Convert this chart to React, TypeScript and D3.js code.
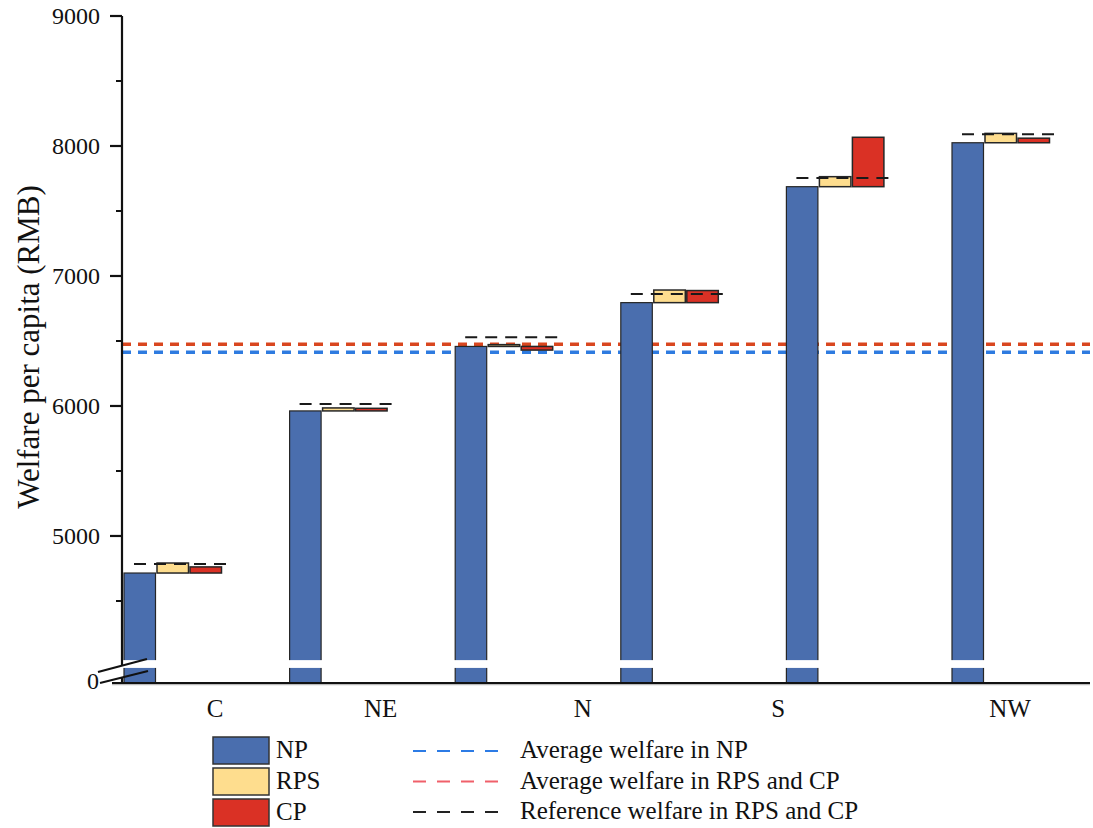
import { useEffect, useRef } from 'react';
import * as d3 from 'd3';

// six region groups, only five of them carry a label in the original figure
const groups = [0, 1, 2, 3, 4, 5];
const npValues = [4715, 5962, 6458, 6795, 7687, 8025];
const rpsValues = [4792, 5985, 6472, 6892, 7764, 8097];
const cpValues = [4762, 5982, 6430, 6888, 8067, 8060];
const refValues = [4785, 6015, 6528, 6862, 7754, 8090];
const avgNP = 6413;
const avgRpsCp = 6475;

const xLabels = ['C', 'NE', 'N', 'S', 'NW'];
const xLabelPos = [0.55, 1.55, 2.77, 3.95, 5.35];

const yTicks = [5000, 6000, 7000, 8000, 9000];
const yMinorTicks = [4500, 5500, 6500, 7500, 8500];
const yBottom = 3869;
const breakBand = [3985, 4045];

const legendBars = ['NP', 'RPS', 'CP'];
const legendLines = [
  'Average welfare in NP',
  'Average welfare in RPS and CP',
  'Reference welfare in RPS and CP',
];

const FONT = '"Liberation Serif", "Times New Roman", serif';
const C_NP = '#4a6eae';
const C_RPS = '#fedd8e';
const C_CP = '#da3125';
const OUTLINE = '#262626';

function Chart() {
  const ref = useRef<SVGSVGElement>(null);
  const width = 1093;
  const height = 828;
  const axisX = 122;
  const plotRight = 1090;
  const bw = 31.5;
  const gap = 1.5;

  useEffect(() => {
    const svg = d3.select(ref.current);
    svg.selectAll('*').remove();

    const yScale = d3.scaleLinear()
      .domain([yBottom, 9000])
      .range([683, 16]);

    const xScale = d3.scaleLinear()
      .domain([0, 5])
      .range([124, 952]);

    const yBase = yScale(yBottom);

    // average lines
    svg.append('line')
      .attr('x1', axisX).attr('x2', plotRight)
      .attr('y1', yScale(avgNP)).attr('y2', yScale(avgNP))
      .attr('stroke', '#2e7be0').attr('stroke-width', 3.5)
      .attr('stroke-dasharray', '9,7');
    svg.append('line')
      .attr('x1', axisX).attr('x2', plotRight)
      .attr('y1', yScale(avgRpsCp)).attr('y2', yScale(avgRpsCp))
      .attr('stroke', '#d9461f').attr('stroke-width', 3.5)
      .attr('stroke-dasharray', '9,7');

    const bars = svg.append('g');

    // NP bars from the base
    bars.selectAll('rect.np')
      .data(groups)
      .enter()
      .append('rect')
      .attr('class', 'np')
      .attr('x', (d) => xScale(d))
      .attr('y', (d) => yScale(npValues[d]))
      .attr('width', bw)
      .attr('height', (d) => yBase - yScale(npValues[d]))
      .attr('fill', C_NP)
      .attr('stroke', OUTLINE)
      .attr('stroke-width', 1.2);

    // floating bars: from NP to scenario value
    const floating = (vals: number[], off: number, fill: string, cls: string) => {
      bars.selectAll(`rect.${cls}`)
        .data(groups)
        .enter()
        .append('rect')
        .attr('class', cls)
        .attr('x', (d) => xScale(d) + off)
        .attr('y', (d) => yScale(Math.max(vals[d], npValues[d])))
        .attr('width', bw)
        .attr('height', (d) => Math.max(1, Math.abs(yScale(vals[d]) - yScale(npValues[d]))))
        .attr('fill', fill)
        .attr('stroke', OUTLINE)
        .attr('stroke-width', 1.5);
    };
    floating(rpsValues, bw + gap, C_RPS, 'rps');
    floating(cpValues, 2 * (bw + gap), C_CP, 'cp');

    // reference dashes
    svg.append('g')
      .selectAll('line')
      .data(groups)
      .enter()
      .append('line')
      .attr('x1', (d) => xScale(d) + 10)
      .attr('x2', (d) => xScale(d) + 3 * bw + 2 * gap + 11)
      .attr('y1', (d) => yScale(refValues[d]))
      .attr('y2', (d) => yScale(refValues[d]))
      .attr('stroke', '#1a1a1a')
      .attr('stroke-width', 2)
      .attr('stroke-dasharray', '12,8');

    // axis break band through the bars
    svg.append('rect')
      .attr('x', axisX + 1)
      .attr('y', yScale(breakBand[1]))
      .attr('width', plotRight - axisX)
      .attr('height', yScale(breakBand[0]) - yScale(breakBand[1]))
      .attr('fill', '#fff');

    // left axis
    const yAxisTop = yScale(9000);
    svg.append('line')
      .attr('x1', axisX).attr('x2', axisX)
      .attr('y1', yAxisTop).attr('y2', 665)
      .attr('stroke', '#111').attr('stroke-width', 2.2);
    svg.append('line')
      .attr('x1', axisX).attr('x2', axisX)
      .attr('y1', 677).attr('y2', yBase)
      .attr('stroke', '#111').attr('stroke-width', 2.2);

    svg.append('g')
      .selectAll('line')
      .data(yTicks)
      .enter()
      .append('line')
      .attr('x1', axisX - 12).attr('x2', axisX)
      .attr('y1', (d) => yScale(d)).attr('y2', (d) => yScale(d))
      .attr('stroke', '#111').attr('stroke-width', 2.2);
    svg.append('g')
      .selectAll('line')
      .data(yMinorTicks)
      .enter()
      .append('line')
      .attr('x1', axisX - 6).attr('x2', axisX)
      .attr('y1', (d) => yScale(d)).attr('y2', (d) => yScale(d))
      .attr('stroke', '#111').attr('stroke-width', 2);

    svg.append('g')
      .selectAll('text')
      .data(yTicks)
      .enter()
      .append('text')
      .attr('x', axisX - 22)
      .attr('y', (d) => yScale(d))
      .attr('dy', '0.35em')
      .attr('text-anchor', 'end')
      .attr('font-family', FONT)
      .attr('font-size', 24)
      .attr('fill', '#111')
      .text((d) => d);

    svg.append('text')
      .attr('x', axisX - 23)
      .attr('y', yBase - 2)
      .attr('dy', '0.35em')
      .attr('text-anchor', 'end')
      .attr('font-family', FONT)
      .attr('font-size', 24)
      .attr('fill', '#111')
      .text('0');

    // break marks
    svg.append('line')
      .attr('x1', axisX - 24).attr('y1', 672)
      .attr('x2', axisX + 25).attr('y2', 659)
      .attr('stroke', '#111').attr('stroke-width', 2.2);
    svg.append('line')
      .attr('x1', axisX - 22).attr('y1', 683)
      .attr('x2', axisX + 26).attr('y2', 671)
      .attr('stroke', '#111').attr('stroke-width', 2.2);

    // bottom axis
    svg.append('line')
      .attr('x1', axisX - 10).attr('x2', plotRight)
      .attr('y1', yBase + 1.5).attr('y2', yBase + 1.5)
      .attr('stroke', '#bbb').attr('stroke-width', 1.5);
    svg.append('line')
      .attr('x1', axisX - 10).attr('x2', plotRight)
      .attr('y1', yBase).attr('y2', yBase)
      .attr('stroke', '#111').attr('stroke-width', 2.2);

    svg.append('g')
      .selectAll('text')
      .data(xLabels)
      .enter()
      .append('text')
      .attr('x', (d, i) => xScale(xLabelPos[i]))
      .attr('y', 717)
      .attr('text-anchor', 'middle')
      .attr('font-family', FONT)
      .attr('font-size', 25)
      .attr('fill', '#111')
      .text((d) => d);

    // y title
    svg.append('text')
      .attr('transform', 'translate(39, 347) rotate(-90)')
      .attr('text-anchor', 'middle')
      .attr('font-family', FONT)
      .attr('font-size', 31)
      .attr('fill', '#111')
      .text('Welfare per capita (RMB)');

    // legend
    const barColors = [C_NP, C_RPS, C_CP];
    const lg = svg.append('g');
    legendBars.forEach((name, i) => {
      const y0 = 737 + i * 31;
      lg.append('rect')
        .attr('x', 213).attr('y', y0)
        .attr('width', 56).attr('height', 27)
        .attr('fill', barColors[i])
        .attr('stroke', '#333').attr('stroke-width', 1.5);
      lg.append('text')
        .attr('x', 276).attr('y', y0 + 21)
        .attr('font-family', FONT)
        .attr('font-size', 25)
        .attr('fill', '#111')
        .text(name);
    });
    const lineColors = ['#2c7be5', '#f0606a', '#222'];
    legendLines.forEach((name, i) => {
      const yy = 751 + i * 30.5;
      lg.append('line')
        .attr('x1', 413).attr('x2', 505)
        .attr('y1', yy).attr('y2', yy)
        .attr('stroke', lineColors[i]).attr('stroke-width', 2.2)
        .attr('stroke-dasharray', '13,11');
      lg.append('text')
        .attr('x', 520).attr('y', yy + 7)
        .attr('font-family', FONT)
        .attr('font-size', 25)
        .attr('fill', '#111')
        .text(name);
    });
  }, []);

  return (
    <svg
      width={width}
      height={height}
      ref={ref}
      style={{ position: 'absolute', left: 0, top: 0, background: '#fff' }}
    />
  );
}

export default function App() {
  return <Chart />;
}
